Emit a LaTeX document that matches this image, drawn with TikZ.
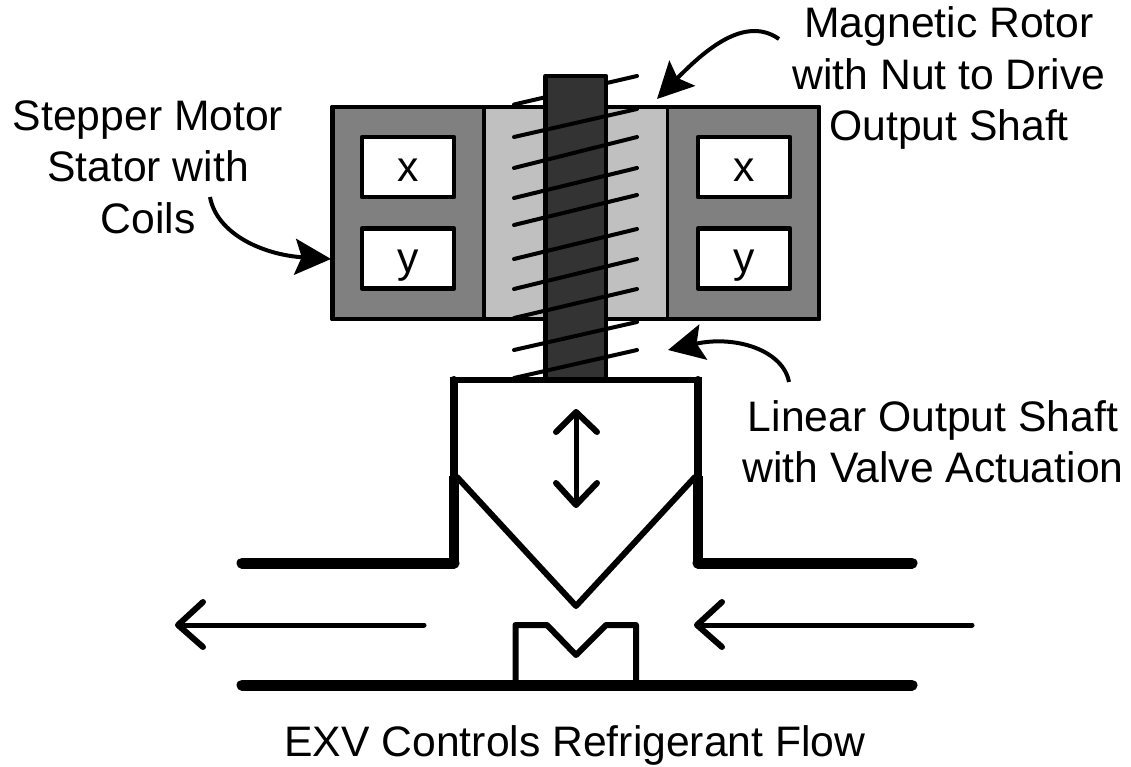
\documentclass[tikz,border=0pt]{standalone}
\usepackage{fontspec}
\setmainfont{Liberation Sans}
\usetikzlibrary{arrows.meta}
\definecolor{stator}{HTML}{808080}
\definecolor{rotor}{HTML}{C0C0C0}
\definecolor{shaftc}{HTML}{333333}
\tikzset{
  px/.style={line width=#1*0.75pt},
  part/.style={draw=black,px=4.5,line join=round},
  coilbox/.style={draw=black,fill=white,px=4.5,line join=round,minimum width=69pt,minimum height=45pt,inner sep=0pt,font=\fontsize{32}{32}\selectfont},
  thread/.style={draw=black,px=4,line cap=round},
  label/.style={align=center,inner sep=0pt,font=\fontsize{32}{38.5}\selectfont},
  callout/.style={draw=black,px=4,-{Stealth[length=27pt,width=27pt,inset=5pt]}},
  openhead/.style={draw=black,px=6,line cap=round,line join=round},
}
\newcommand{\coilmark}[1]{\smash{\raisebox{-10.5pt}{#1}}}
\begin{document}
\begin{tikzpicture}[x=0.75pt,y=-0.75pt]
\useasboundingbox (0,0) rectangle (1131,767);
% stator and rotor
\draw[part,fill=stator] (332.5,107) rectangle (484,319);
\draw[part,fill=stator] (667,107) rectangle (819,319);
\draw[part,fill=rotor,px=3] (484,107) rectangle (667,319);
\draw[part] (332.5,107) rectangle (819,319);
\node[coilbox] (x1) at (408,167) {\coilmark{x}};
\node[coilbox] (y1) at (408,258.5) {\coilmark{y}};
\node[coilbox] (x2) at (744,167) {\coilmark{x}};
\node[coilbox] (y2) at (744,258.5) {\coilmark{y}};
% thread behind the shaft
\draw[thread] (514,104.5) -- (637,76);
% shaft
\draw[part,fill=shaftc] (545.5,76) rectangle (606,380);
% thread in front of the shaft
\foreach \a/\b in {137/109,168/137,198/168,225/195,259/229,289/259,318/289,350/322,378/350}
  \draw[thread] (514,\a) -- (637,\b);
% valve body
\fill[white] (454,380) -- (698,380) -- (698,477) -- (576,606) -- (454,477) -- cycle;
\draw[draw=black,px=5.5] (450,380) -- (702,380);
\draw[draw=black,px=8,line cap=round] (453.5,380) -- (453.5,478);
\draw[draw=black,px=8,line cap=round] (698,380) -- (698,478);
\draw[draw=black,px=10,line join=round] (454,476) -- (454,563);
\draw[draw=black,px=10,line join=round] (698,476) -- (698,563);
\draw[draw=black,px=11,line cap=round,line join=round] (242,563) -- (454,563);
\draw[draw=black,px=11,line cap=round,line join=round] (698,563) -- (912,563);
\draw[openhead] (457,477) -- (576,606) -- (695,477);
% seat and lower pipe
\draw[draw=black,px=11,line cap=round] (242,685) -- (912,685);
\draw[openhead,line cap=butt] (515.5,685) -- (515.5,625) -- (547,625) -- (576,655) -- (606,625) -- (636,625) -- (636,685);
% motion arrows
\coordinate (upT) at (576,412); \coordinate (dnT) at (576,505);
\draw[openhead,px=5] (upT) -- (dnT);
\draw[openhead] (556,432) -- (upT) -- (597,432);
\draw[openhead] (556,483) -- (dnT) -- (597,483);
\coordinate (lfS) at (424,625); \coordinate (lfE) at (178,625);
\draw[openhead,px=5] (lfS) -- (lfE);
\draw[openhead] (203,602) -- (lfE) -- (203,647);
\coordinate (rtS) at (972,625); \coordinate (rtE) at (697,625);
\draw[openhead,px=5] (rtS) -- (rtE);
\draw[openhead] (722,602) -- (rtE) -- (722,647);
% labels
\node[label] (lstat) at (148,167) {Stepper Motor\\Stator with\\Coils};
\node[label] (lrot) at (949,78) {Magnetic Rotor\\with Nut to Drive\\Output Shaft};
\node[label] (lout) at (933,442) {Linear Output Shaft\\with Valve Actuation};
\node[label] (lexv) at (575,745) {EXV Controls Refrigerant Flow};
% callouts
\coordinate (c1s) at (779,39); \coordinate (c1e) at (657,99);
\draw[callout] (c1s) .. controls (745,15) and (705,50) .. (c1e);
\coordinate (c2s) at (210,197); \coordinate (c2e) at (331,259);
\draw[callout] (c2s) .. controls (217,235) and (265,255) .. (c2e);
\coordinate (c3s) at (789,382); \coordinate (c3e) at (668,350);
\draw[callout] (c3s) .. controls (783,350) and (735,335) .. (c3e);
\end{tikzpicture}
\end{document}
